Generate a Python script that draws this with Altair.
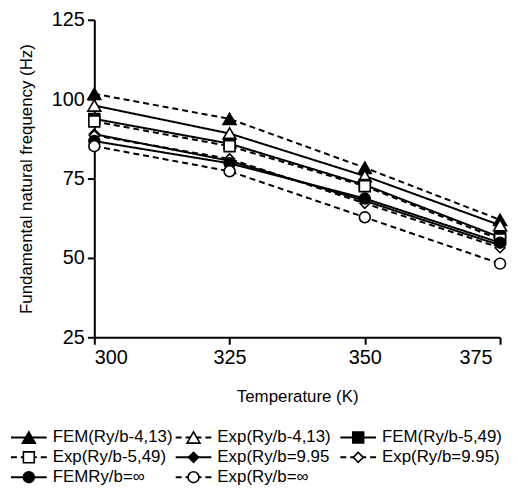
import altair as alt
import pandas as pd

temps = [300, 325, 350, 375]

series_names = [
    "FEM(Ry/b-4,13)", "Exp(Ry/b-4,13)", "FEM(Ry/b-5,49)", "Exp(Ry/b-5,49)",
    "Exp(Ry/b=9.95", "Exp(Ry/b=9.95)", "FEMRy/b=∞", "Exp(Ry/b=∞",
]
fem_413 = [101.7, 93.8, 78.4, 62.0]
exp_413 = [98.0, 89.2, 75.8, 60.3]
fem_549 = [93.8, 86.0, 73.0, 56.5]
exp_549 = [93.0, 85.2, 72.6, 55.8]
fem_995 = [89.0, 80.6, 68.0, 54.0]
exp_995 = [88.6, 81.2, 67.2, 53.2]
fem_inf = [86.8, 79.8, 68.7, 54.8]
exp_inf = [85.2, 77.3, 62.8, 48.2]
series_values = [fem_413, exp_413, fem_549, exp_549, fem_995, exp_995, fem_inf, exp_inf]

marker_shapes = ["triangle-up", "triangle-up", "square", "square",
                 "diamond", "diamond", "circle", "circle"]
marker_filled = [True, False, True, False, True, False, True, False]
marker_sizes = [170, 170, 120, 120, 100, 100, 120, 120]
plot_dashed = [True, False, False, True, False, True, False, True]
legend_dashed = [False, True, False, True, False, True, False, True]
legend_rows = [0, 0, 0, 1, 1, 1, 2, 2]
legend_cols = [0, 1, 2, 0, 1, 2, 0, 1]

y_ticks = [25, 50, 75, 100, 125]

rows = []
for i, name in enumerate(series_names):
    for t, v in zip(temps, series_values[i]):
        rows.append({
            "series": name, "order": i, "temp": t, "freq": v,
            "shape": marker_shapes[i],
            "fillc": "black" if marker_filled[i] else "white",
            "size": marker_sizes[i],
            "dash": "dashed" if plot_dashed[i] else "solid",
        })
df = pd.DataFrame(rows)

leg = pd.DataFrame({
    "label": series_names,
    "row": legend_rows,
    "col": legend_cols,
    "shape": marker_shapes,
    "fillc": ["black" if f else "white" for f in marker_filled],
    "size": marker_sizes,
    "dash": ["dashed" if d else "solid" for d in legend_dashed],
})

dash_scale = alt.Scale(domain=["solid", "dashed"], range=[[1, 0], [6, 4]])

W, H = 409, 320

xenc = alt.X("temp:Q", title="Temperature (K)",
             scale=alt.Scale(domain=[300, 375], nice=False, zero=False),
             axis=alt.Axis(values=temps, format="d", grid=False, labelPadding=3, titlePadding=22,
                           labelOffset={"condition": {"test": "datum.value == 375", "value": -8},
                                        "value": 0}))
yenc = alt.Y("freq:Q", title="Fundamental natural frequency (Hz)",
             scale=alt.Scale(domain=[25, 125], nice=False, zero=False),
             axis=alt.Axis(values=y_ticks, grid=False, labelPadding=3, titlePadding=16))

lines = alt.Chart(df).mark_line(color="black", strokeWidth=2).encode(
    x=xenc, y=yenc, detail="series:N",
    strokeDash=alt.StrokeDash("dash:N", scale=dash_scale, legend=None),
)
points = alt.Chart(df).mark_point(filled=True, stroke="black", strokeWidth=1.6, opacity=1).encode(
    x="temp:Q", y="freq:Q",
    shape=alt.Shape("shape:N", scale=None),
    fill=alt.Fill("fillc:N", scale=None),
    size=alt.Size("size:Q", scale=None),
    order="order:Q",
)
plot = alt.layer(lines, points).properties(width=W, height=H)

# legend drawn in a grid below the plot; x scale in pixel-like units of the plot width
lx = alt.Scale(domain=[0, W], nice=False, zero=False)
ly = alt.Scale(domain=[0, 2], nice=False, zero=False, reverse=True)
base = alt.Chart(leg).transform_calculate(
    cx="datum.col * 166 - 84",
).transform_calculate(
    x0="datum.cx", x1="datum.cx + 36", xm="datum.cx + 18", xt="datum.cx + 42",
)
leg_rule = base.mark_rule(color="black", strokeWidth=2).encode(
    x=alt.X("x0:Q", scale=lx, axis=None), x2="x1:Q",
    y=alt.Y("row:Q", scale=ly, axis=None),
    strokeDash=alt.StrokeDash("dash:N", scale=dash_scale, legend=None),
)
leg_pt = base.mark_point(filled=True, stroke="black", strokeWidth=1.6, opacity=1).encode(
    x=alt.X("xm:Q", scale=lx, axis=None),
    y=alt.Y("row:Q", scale=ly, axis=None),
    shape=alt.Shape("shape:N", scale=None),
    fill=alt.Fill("fillc:N", scale=None),
    size=alt.Size("size:Q", scale=None),
)
leg_txt = base.mark_text(align="left", baseline="middle", fontSize=17, color="black",
                         font="Liberation Sans").encode(
    x=alt.X("xt:Q", scale=lx, axis=None),
    y=alt.Y("row:Q", scale=ly, axis=None),
    text="label:N",
)
legend = alt.layer(leg_rule, leg_pt, leg_txt).properties(width=W, height=40)

chart = alt.vconcat(plot, legend, spacing=24).properties(
    padding={"left": 2, "top": 0, "right": 0, "bottom": 0}
).configure(font="Liberation Sans").configure_view(stroke=None).configure_axis(
    domainColor="black", domainWidth=2, tickColor="black", tickWidth=2, tickSize=7,
    labelColor="black", labelFontSize=20, labelFont="Liberation Sans",
    titleColor="black", titleFontSize=17, titleFontWeight="normal", titleFont="Liberation Sans",
)

chart.save("out.html", embed_options={"renderer": "svg", "actions": False})
